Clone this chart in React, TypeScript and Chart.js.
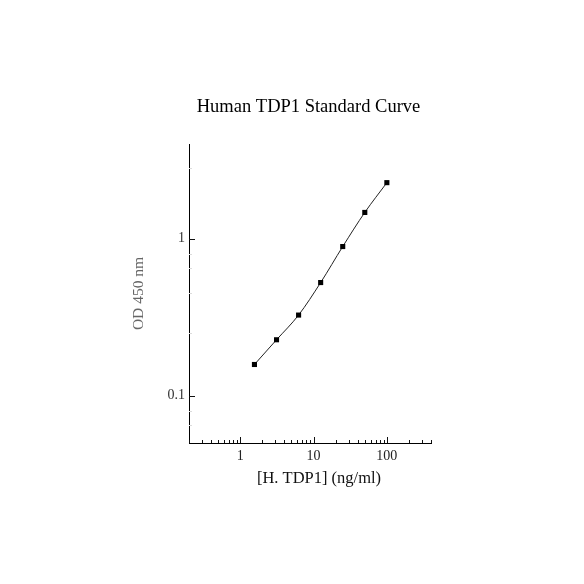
import React, { useEffect, useRef } from "react";
import { Chart, registerables } from "chart.js";

Chart.register(...registerables);

// ---- data ----
const concentrations = [1.5625, 3.125, 6.25, 12.5, 25, 50, 100];
const odValues = [0.158, 0.227, 0.326, 0.525, 0.89, 1.467, 2.27];

// ---- axes ----
const xRange = [0.2, 400];
const yRange = [0.05, 4];
const xMajorTicks = [1, 10, 100];
const xMinorTicks = [0.2, 0.3, 0.4, 0.5, 0.6, 0.7, 0.8, 0.9, 2, 3, 4, 5, 6, 7, 8, 9, 20, 30, 40, 50, 60, 70, 80, 90, 200, 300, 400];
const yMajorTicks = [0.1, 1];
const yMinorTicks = [0.065, 0.08, 0.25, 0.45, 0.65, 0.8, 2.8];

// ---- text ----
const chartTitle = "Human TDP1 Standard Curve";
const xTitle = "[H. TDP1] (ng/ml)";
const yTitle = "OD 450 nm";

const FONT = '"Liberation Serif", "Times New Roman", serif';

const decorations = {
  id: "decorations",
  afterDraw(chart: any) {
    const { ctx, chartArea, scales } = chart;
    const xs = scales.x;
    const ys = scales.y;
    ctx.save();
    ctx.lineWidth = 1;
    const bottom = Math.round(chartArea.bottom);
    const left = Math.round(chartArea.left);
    // x ticks (inward)
    ctx.strokeStyle = "#111";
    const drawX = (v: number, len: number) => {
      const px = Math.round(xs.getPixelForValue(v)) + 0.5;
      ctx.beginPath();
      ctx.moveTo(px, bottom);
      ctx.lineTo(px, bottom - len);
      ctx.stroke();
    };
    xMajorTicks.forEach((v) => drawX(v, 6));
    xMinorTicks.forEach((v) => drawX(v, 3));
    // y ticks (inward)
    const drawY = (v: number, len: number, color: string) => {
      const py = Math.round(ys.getPixelForValue(v)) + 0.5;
      ctx.strokeStyle = color;
      ctx.beginPath();
      ctx.moveTo(left, py);
      ctx.lineTo(left + len, py);
      ctx.stroke();
    };
    yMajorTicks.forEach((v) => drawY(v, 6, "#111"));
    yMinorTicks.forEach((v) => drawY(v, 3, "#dcdcdc"));

    // titles
    const cx = (chartArea.left + chartArea.right) / 2;
    ctx.fillStyle = "#000";
    ctx.textAlign = "center";
    ctx.textBaseline = "alphabetic";
    ctx.font = `18.5px ${FONT}`;
    ctx.fillText(chartTitle, cx - 1.5, chartArea.top - 32.5);
    ctx.fillStyle = "#111";
    ctx.font = `16.5px ${FONT}`;
    ctx.fillText(xTitle, cx + 9, chartArea.bottom + 40);
    ctx.restore();
  },
};

export default function App() {
  const canvasRef = useRef<HTMLCanvasElement | null>(null);

  useEffect(() => {
    if (!canvasRef.current) return;
    const chart = new Chart(canvasRef.current, {
      type: "scatter",
      data: {
        datasets: [
          {
            data: concentrations.map((c, i) => ({ x: c, y: odValues[i] })),
            showLine: true,
            borderColor: "#222",
            borderWidth: 1,
            cubicInterpolationMode: "monotone",
            pointStyle: "rect",
            pointRadius: 3.6,
            pointBorderWidth: 0,
            pointBackgroundColor: "#000",
            pointHoverRadius: 3.6,
          },
        ],
      },
      options: {
        responsive: false,
        animation: false,
        events: [],
        layout: { padding: { left: 0, right: 153, top: 144, bottom: 0 } },
        plugins: {
          legend: { display: false },
          title: { display: false },
          tooltip: { enabled: false },
        },
        scales: {
          x: {
            type: "logarithmic",
            min: xRange[0],
            max: xRange[1],
            grid: { display: false, drawTicks: false },
            border: { display: true, color: "#000", width: 1 },
            afterBuildTicks: (scale: any) => {
              scale.ticks = xMajorTicks.map((v) => ({ value: v }));
            },
            afterFit: (scale: any) => {
              scale.height = 141;
            },
            ticks: {
              autoSkip: false,
              maxRotation: 0,
              padding: 5,
              color: "#222",
              font: { family: FONT, size: 14 },
              callback: (v: any) => String(v),
            },
          },
          y: {
            type: "logarithmic",
            min: yRange[0],
            max: yRange[1],
            grid: { display: false, drawTicks: false },
            border: { display: true, color: "#000", width: 1 },
            afterBuildTicks: (scale: any) => {
              scale.ticks = yMajorTicks.map((v) => ({ value: v }));
            },
            afterFit: (scale: any) => {
              scale.width = 189;
            },
            ticks: {
              autoSkip: false,
              padding: 4,
              color: "#333",
              font: { family: FONT, size: 14 },
              callback: (v: any) => String(v),
            },
            title: {
              display: true,
              text: yTitle,
              color: "#666",
              font: { family: FONT, size: 15.5 },
              padding: { top: 129.3, bottom: 0 },
            },
          },
        },
      },
      plugins: [decorations],
    });
    return () => chart.destroy();
  }, []);

  return (
    <div style={{ position: "absolute", left: 0, top: 0, width: 584, height: 584, background: "#fff" }}>
      <canvas ref={canvasRef} width={584} height={584} />
    </div>
  );
}
